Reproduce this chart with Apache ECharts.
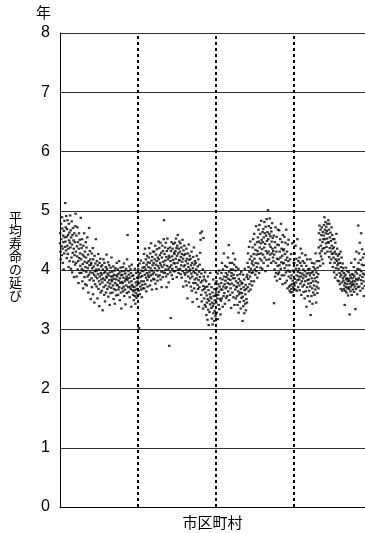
<!DOCTYPE html>
<html>
<head>
<meta charset="utf-8">
<script src="https://cdn.jsdelivr.net/npm/echarts@6/dist/echarts.min.js"></script>
<style>
  html, body { margin: 0; padding: 0; background: #fff; }
  #main { width: 365px; height: 533px; }
</style>
</head>
<body>
<div id="main"></div>
<script>
// 平均寿命の延び（年）, 市区町村ごと, 値は 1/100 年単位で読み取り
var sec1 = [
  445,462,431,418,478,452,440,425,489,470,436,412,458,447,401,466,428,483,455,439,
  513,448,472,433,491,456,420,469,441,484,427,459,436,405,478,450,463,415,446,492,
  438,467,402,455,421,482,443,396,459,429,471,414,450,436,388,462,425,447,409,474,
  495,431,412,458,389,440,423,472,401,447,415,378,436,462,420,395,451,428,407,443,
  488,418,395,437,402,452,381,426,410,369,441,399,423,462,388,414,431,376,405,447,
  421,397,438,374,412,455,389,403,426,362,415,392,471,408,383,432,396,418,351,409,
  412,386,428,371,403,395,437,359,418,382,406,392,345,424,398,376,411,389,452,401,
  398,372,415,386,352,408,393,427,368,401,381,339,412,389,376,419,362,395,406,384,
  392,365,408,379,332,401,386,418,371,395,358,412,383,347,397,374,405,362,389,426,
  387,402,368,394,379,413,355,391,372,408,383,341,396,377,361,404,389,370,421,384,
  381,397,362,389,374,406,351,392,368,385,399,343,378,403,366,391,357,384,412,375,
  389,374,401,358,393,367,382,415,371,396,349,386,378,404,362,391,335,380,398,369,
  392,378,405,364,387,372,411,356,398,381,367,394,342,385,402,374,389,361,418,383,
  459,386,371,398,363,392,379,406,354,387,372,401,368,395,338,381,409,375,390,366,
  372,358,391,364,349,385,371,356,402,366,343,379,361,395,353,374,368,387,357,381
];
var sec2 = [
  386,402,365,392,302,378,411,359,395,372,388,416,367,381,399,354,390,375,404,369,
  398,412,381,427,369,405,392,436,376,401,418,387,364,409,395,424,383,372,413,391,
  405,421,388,437,396,412,374,428,403,391,445,382,416,399,367,422,408,393,431,385,
  412,396,431,384,418,403,441,377,409,426,392,368,415,435,399,382,421,407,389,448,
  418,403,437,391,425,412,446,384,408,429,397,371,421,441,405,388,432,414,396,452,
  484,409,427,395,438,416,401,446,389,422,371,432,407,453,393,418,436,402,379,424,
  272,421,405,438,396,415,319,432,408,447,391,423,402,436,385,417,444,398,412,429,
  427,411,446,398,432,419,453,405,437,388,424,441,412,459,401,428,395,436,417,448,
  416,431,402,445,393,422,408,438,387,427,414,451,398,419,372,433,406,425,441,395,
  408,392,427,381,415,401,436,374,419,396,352,411,428,389,405,443,379,417,398,424,
  401,386,419,372,408,394,431,365,412,389,346,403,422,378,397,438,369,409,384,415,
  395,378,412,362,401,386,424,351,392,375,406,368,418,383,338,397,371,409,388,429,
  462,451,379,358,394,347,465,382,366,401,335,373,454,389,352,368,384,341,396,371,
  362,338,381,324,357,345,372,316,351,389,333,366,307,348,376,329,359,342,395,354,
  285,352,336,371,318,345,362,308,339,384,327,356,343,314,368,331,349,377,322,358
];
var sec3 = [
  362,345,381,328,369,352,394,317,358,376,341,363,399,334,372,351,386,325,367,348,
  378,395,352,412,367,384,338,401,372,356,428,389,361,376,343,407,382,369,395,353,
  388,371,405,356,392,378,421,364,385,442,349,397,376,412,358,383,369,401,336,390,
  395,377,412,362,401,386,428,354,392,374,409,341,386,418,367,399,352,381,405,371,
  372,356,391,341,378,364,402,328,385,359,374,346,393,362,381,335,368,397,353,377,
  361,378,314,355,392,339,371,348,384,327,366,402,343,359,375,332,368,351,388,345,
  392,412,371,428,385,405,364,439,397,376,418,389,448,367,402,423,381,395,411,374,
  415,438,396,452,408,427,381,461,419,401,443,392,434,412,474,398,426,405,447,387,
  432,455,411,468,427,448,395,476,438,419,461,404,445,428,483,416,451,435,402,464,
  447,426,469,412,455,438,481,421,462,444,398,473,432,458,417,486,449,428,464,407,
  501,452,431,474,418,461,443,487,426,457,439,471,412,465,448,428,479,436,454,421,
  432,415,458,344,426,401,447,389,438,472,412,395,431,456,382,419,443,407,468,393,
  418,442,396,467,408,431,385,452,421,402,478,413,436,391,447,424,376,459,411,433,
  412,435,391,456,403,427,378,446,417,396,468,408,382,431,421,369,443,399,415,451,
  389,372,408,365,397,418,374,362,386,427,368,391,376,445,363,382,399,371,357,412
];
var sec4 = [
  396,412,374,428,385,367,441,402,379,419,391,365,408,452,383,397,371,415,389,
  402,384,421,366,395,412,377,436,389,358,407,381,428,394,372,415,386,401,363,
  391,375,412,352,398,381,425,364,389,407,338,394,371,418,383,356,401,377,395,
  384,365,402,347,391,372,418,324,378,395,356,386,412,369,343,397,381,362,405,
  392,374,411,358,386,402,367,428,381,345,396,372,415,388,361,404,379,393,369,
  438,462,415,475,428,451,407,468,441,423,459,432,472,418,447,436,464,411,452,
  458,476,437,489,452,468,428,481,462,445,473,439,466,453,478,431,461,447,484,
  446,468,422,478,437,455,412,463,431,449,418,472,441,427,459,436,405,452,428,
  421,438,396,452,412,431,387,446,418,403,427,461,392,415,436,408,382,424,411,
  402,418,381,427,395,376,412,389,431,368,405,392,421,379,398,365,411,386,403,
  382,368,395,374,389,341,378,365,392,371,404,384,362,386,376,398,369,381,357,
  385,371,396,368,382,325,377,391,364,387,372,412,379,358,393,375,386,367,381,
  392,376,405,363,389,372,418,381,334,397,368,385,431,376,394,359,402,383,371,
  475,412,386,428,372,401,446,391,365,417,383,462,398,377,409,435,388,369,421,394,381,408,356,427,392,373
];
var dividers = [300, 600, 900];   // 点線の位置（市区町村の番号）
var yTicks = [0, 1, 2, 3, 4, 5, 6, 7, 8];

var all = sec1.concat(sec2, sec3, sec4);
var points = [];
for (var i = 0; i < all.length; i++) {
    points.push([i, all[i] / 100]);
}

var chart = echarts.init(document.getElementById('main'));
var option = {
    animation: false,
    backgroundColor: '#fff',
    grid: { left: 60, right: 0, top: 33, bottom: 26, containLabel: false, outerBoundsMode: 'none' },
    xAxis: {
        type: 'value',
        min: 0,
        max: 1173,
        name: '市区町村',
        nameLocation: 'middle',
        nameGap: 8,
        nameTextStyle: { fontSize: 15, color: '#000', fontFamily: '"Noto Sans CJK JP"', verticalAlign: 'top' },
        axisLine: { show: true, lineStyle: { color: '#000', width: 1 } },
        axisTick: { show: false },
        axisLabel: { show: false },
        splitLine: { show: false }
    },
    yAxis: {
        type: 'value',
        min: yTicks[0],
        max: yTicks[yTicks.length - 1],
        interval: 1,
        axisLine: { show: true, lineStyle: { color: '#000', width: 1 } },
        axisTick: { show: false },
        axisLabel: { fontSize: 16, color: '#000', margin: 10, fontFamily: '"Liberation Sans", Arial' },
        splitLine: { show: true, lineStyle: { color: '#333', width: 1 } }
    },
    graphic: [
        {
            type: 'text', left: 36, top: 5,
            style: { text: '年', font: '15px "Noto Sans CJK JP"', fill: '#000' }
        },
        {
            type: 'text', left: 9, top: 211,
            style: {
                text: '平\n均\n寿\n命\nの\n延\nび',
                font: '13px "Noto Sans CJK JP"',
                lineHeight: 13,
                fill: '#000'
            }
        }
    ],
    series: [
        {
            type: 'scatter',
            data: points,
            symbol: 'rect',
            symbolSize: [2.5, 2.2],
            itemStyle: { color: '#000' },
            silent: true,
            markLine: {
                silent: true,
                symbol: 'none',
                label: { show: false },
                lineStyle: { color: '#000', type: [3, 3], width: 2 },
                data: dividers.map(function (d) { return { xAxis: d }; })
            }
        }
    ]
};
chart.setOption(option);
</script>
</body>
</html>
